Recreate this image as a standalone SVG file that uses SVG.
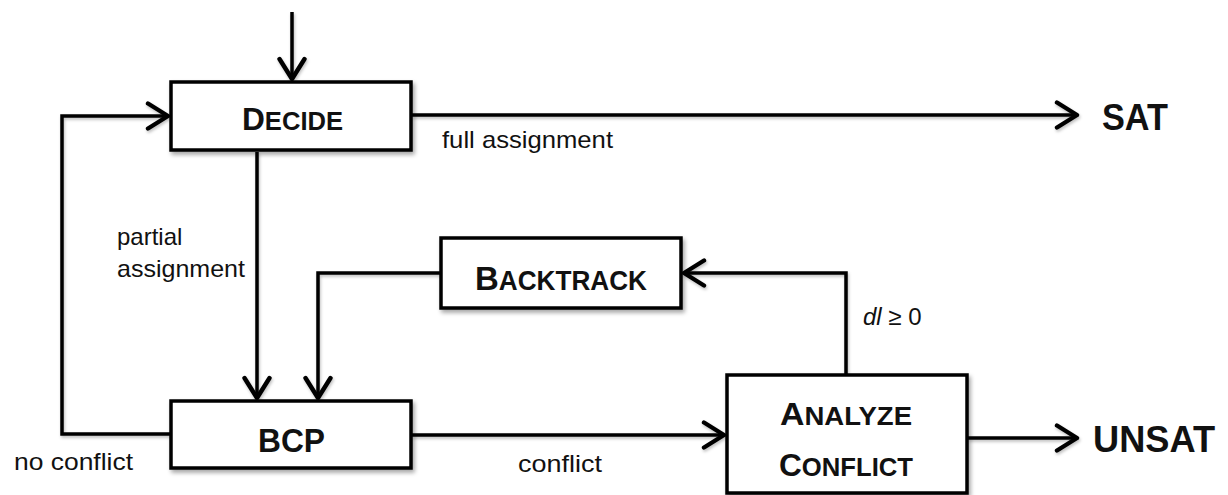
<svg xmlns="http://www.w3.org/2000/svg" width="1228" height="495" viewBox="0 0 1228 495">
<style>
.box{fill:#fff;stroke:#000;stroke-width:3.5;filter:url(#sh)}
.ln{fill:none;stroke:#000;stroke-width:3.5;stroke-linejoin:miter;marker-end:url(#ah);filter:url(#sh2)}
.ttl{font-family:"Liberation Sans",Arial,sans-serif;font-weight:bold;fill:#111;text-anchor:start}
.lbl{font-family:"Liberation Sans",Arial,sans-serif;font-size:24px;fill:#111}
</style>
<defs>
<filter id="sh" x="-10%" y="-10%" width="125%" height="130%">
<feDropShadow dx="2" dy="3" stdDeviation="2" flood-color="#000" flood-opacity="0.35"/>
</filter>
<filter id="sh2" filterUnits="userSpaceOnUse" x="0" y="0" width="1228" height="495">
<feDropShadow dx="1" dy="2" stdDeviation="1.5" flood-color="#000" flood-opacity="0.25"/>
</filter>
<marker id="ah" markerUnits="userSpaceOnUse" markerWidth="30" markerHeight="30" viewBox="-20 -12 22 24" refX="0" refY="0" orient="auto">
<path d="M-16,-10 L0,0 L-16,10" fill="none" stroke="#000" stroke-width="3.5" stroke-linecap="round" stroke-linejoin="round"/>
</marker>
</defs>

<g id="connectors">
<path class="ln" d="M292,12 L292,79"/>
<path class="ln" d="M412,115 L1077,115"/>
<path class="ln" d="M257,152 L257,398"/>
<path class="ln" d="M170,434 L62,434 L62,116 L168,116"/>
<path class="ln" d="M440,273 L318,273 L318,398"/>
<path class="ln" d="M412,435 L724,435"/>
<path class="ln" d="M846,375 L846,273 L684,273"/>
<path class="ln" d="M968,438 L1077,438"/>
</g>

<g id="decide">
<rect class="box" x="171" y="82" width="240" height="68"/>
<text class="ttl" x="242" y="130" textLength="101" lengthAdjust="spacingAndGlyphs"><tspan font-size="31">D</tspan><tspan font-size="25">ECIDE</tspan></text>
</g>

<g id="bcp">
<rect class="box" x="171" y="401" width="240" height="67"/>
<text class="ttl" x="258" y="452" font-size="34" textLength="67" lengthAdjust="spacingAndGlyphs">BCP</text>
</g>

<g id="backtrack">
<rect class="box" x="441" y="238" width="240" height="70"/>
<text class="ttl" x="475" y="290" textLength="172" lengthAdjust="spacingAndGlyphs"><tspan font-size="34">B</tspan><tspan font-size="27">ACKTRACK</tspan></text>
</g>

<g id="analyze">
<rect class="box" x="727" y="375" width="240" height="118"/>
<text class="ttl" x="780" y="425" textLength="132" lengthAdjust="spacingAndGlyphs"><tspan font-size="32">A</tspan><tspan font-size="26">NALYZE</tspan></text>
<text class="ttl" x="779" y="476" textLength="134" lengthAdjust="spacingAndGlyphs"><tspan font-size="32">C</tspan><tspan font-size="26">ONFLICT</tspan></text>
</g>

<g id="sat">
<text class="ttl" x="1102" y="130" font-size="37" textLength="66" lengthAdjust="spacingAndGlyphs">SAT</text>
</g>
<g id="unsat">
<text class="ttl" x="1093" y="452" font-size="37" textLength="122" lengthAdjust="spacingAndGlyphs">UNSAT</text>
</g>

<g id="labels">
<text class="lbl" x="442" y="148" textLength="171" lengthAdjust="spacingAndGlyphs">full assignment</text>
<text class="lbl" x="117" y="245">partial</text>
<text class="lbl" x="117" y="277" textLength="128" lengthAdjust="spacingAndGlyphs">assignment</text>
<text class="lbl" x="14" y="470" textLength="119" lengthAdjust="spacingAndGlyphs">no conflict</text>
<text class="lbl" x="518" y="472" textLength="84" lengthAdjust="spacingAndGlyphs">conflict</text>
<text class="lbl" x="863" y="325"><tspan font-style="italic">dl</tspan> ≥ 0</text>
</g>
</svg>
